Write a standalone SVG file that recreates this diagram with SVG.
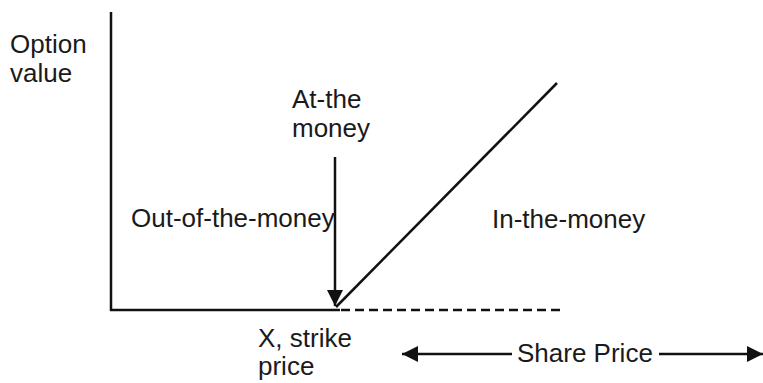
<svg xmlns="http://www.w3.org/2000/svg" width="763" height="383" viewBox="0 0 763 383">
<style>
text{font-family:"Liberation Sans",Arial,sans-serif;font-size:26px;fill:#1a1a1a}
.ln{stroke:#111;stroke-width:2.5;fill:none}
.dash{stroke:#111;stroke-width:2.5;fill:none;stroke-dasharray:9 5}
</style>
<defs>
<marker id="ah" viewBox="0 0 16 16" refX="16" refY="8" markerWidth="16" markerHeight="16" markerUnits="userSpaceOnUse" orient="auto-start-reverse">
<path d="M0,0 L16,8 L0,16 z" fill="#111"/>
</marker>
</defs>
<rect width="763" height="383" fill="#fff"/>
<g id="axes">
<line class="ln" x1="111" y1="12" x2="111" y2="311"/>
<line class="ln" x1="110" y1="310" x2="340" y2="310"/>
</g>
<g id="connectors">
<line class="dash" x1="341" y1="310" x2="560" y2="310"/>
<line class="ln" x1="336" y1="307" x2="557" y2="83"/>
<line class="ln" x1="335" y1="157" x2="335" y2="306" marker-end="url(#ah)"/>
<line class="ln" x1="402" y1="354" x2="512" y2="354" marker-start="url(#ah)"/>
<line class="ln" x1="659" y1="354" x2="763" y2="354" marker-end="url(#ah)"/>
</g>
<g id="label-option-value">
<text x="10" y="53">Option</text>
<text x="10" y="82">value</text>
</g>
<g id="label-at-the-money">
<text x="292" y="108">At-the</text>
<text x="292" y="137">money</text>
</g>
<g id="label-out">
<text x="131" y="227">Out-of-the-money</text>
</g>
<g id="label-in">
<text x="492" y="228">In-the-money</text>
</g>
<g id="label-strike">
<text x="258" y="347">X, strike</text>
<text x="258" y="375">price</text>
</g>
<g id="label-share-price">
<text x="517" y="362">Share Price</text>
</g>
</svg>
